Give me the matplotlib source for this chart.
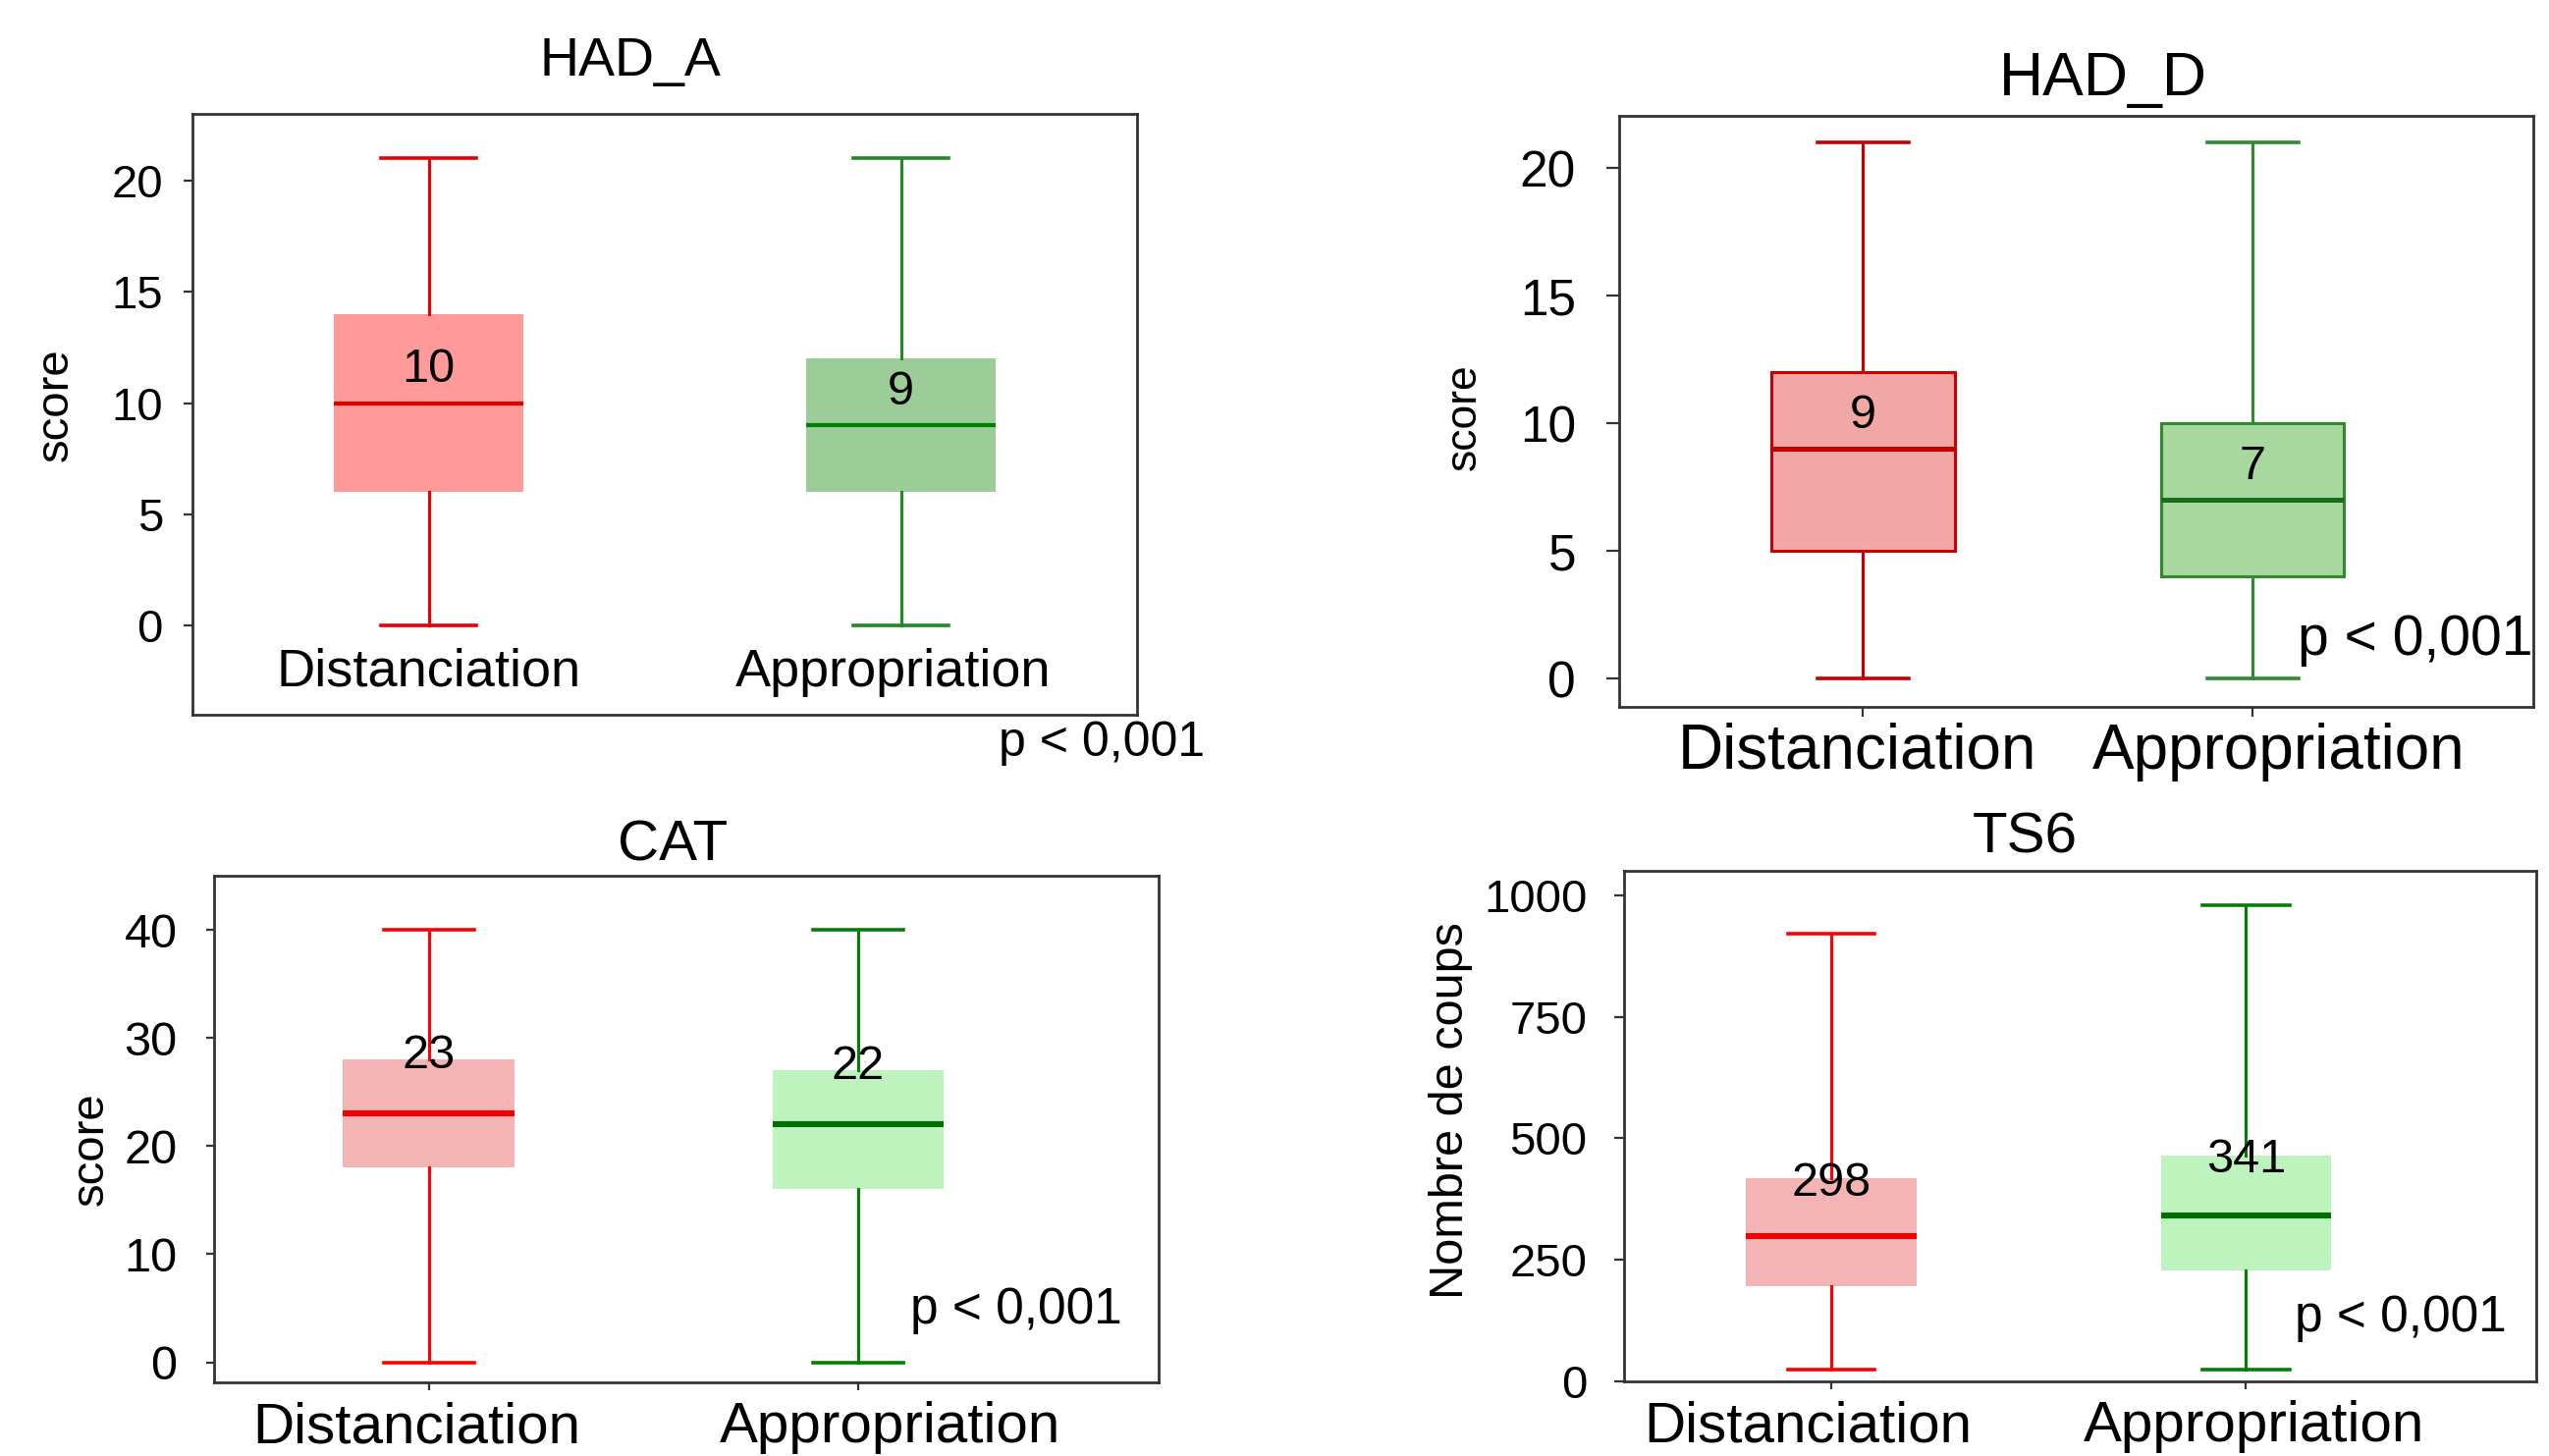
import matplotlib
matplotlib.use('Agg')
import matplotlib.pyplot as plt
from matplotlib.transforms import ScaledTranslation

plt.rcParams['font.family'] = ['Liberation Sans', 'DejaVu Sans']

groupes = ['Distanciation', 'Appropriation']

# HAD_A
hada_min = [0, 0]
hada_q1 = [6, 6]
hada_med = [10, 9]
hada_q3 = [14, 12]
hada_max = [21, 21]

# HAD_D
hadd_min = [0, 0]
hadd_q1 = [5, 4]
hadd_med = [9, 7]
hadd_q3 = [12, 10]
hadd_max = [21, 21]

# CAT
cat_min = [0, 0]
cat_q1 = [18, 16]
cat_med = [23, 22]
cat_q3 = [28, 27]
cat_max = [40, 40]

# TS6
ts6_min = [25, 25]
ts6_q1 = [195, 228]
ts6_med = [298, 341]
ts6_q3 = [417, 465]
ts6_max = [920, 980]

pval = 'p < 0,001'


def boite(ax, mins, q1, med, q3, maxs, larg, cap, fill, edge, ligne, medcol, med_lw, edge_lw):
    # boxplot a partir des stats
    stats = []
    for i in range(len(mins)):
        stats.append({'whislo': mins[i], 'q1': q1[i], 'med': med[i],
                      'q3': q3[i], 'whishi': maxs[i], 'fliers': []})
    b = ax.bxp(stats, positions=[1, 2], widths=larg, capwidths=cap,
               patch_artist=True, showfliers=False)
    for i in range(len(mins)):
        b['boxes'][i].set(facecolor=fill[i], edgecolor=edge[i], linewidth=edge_lw)
        b['medians'][i].set(color=medcol[i], linewidth=med_lw, solid_capstyle='butt')
        for w in b['whiskers'][2*i:2*i+2]:
            w.set(color=ligne[i], linewidth=1.1)
        for c in b['caps'][2*i:2*i+2]:
            c.set(color=ligne[i], linewidth=1.3)
    return b


def cadre(ax):
    for s in ax.spines.values():
        s.set_color('#333333')
        s.set_linewidth(1.0)


def decale(fig, ax, dx):
    # petit decalage horizontal des etiquettes (en pixels)
    for lab, d in zip(ax.get_xticklabels(), dx):
        lab.set_transform(lab.get_transform() + ScaledTranslation(d / 200, 0, fig.dpi_scale_trans))


fig = plt.figure(figsize=(12.98, 7.415), dpi=200)

# ---- HAD_A
ax1 = fig.add_axes([0.0755, 0.5091, 0.3706, 0.4127])
boite(ax1, hada_min, hada_q1, hada_med, hada_q3, hada_max, 0.40, 0.20,
      ['#ff9a9a', '#9ccc98'], ['#ff9a9a', '#9ccc98'], ['#e60000', '#1e8c1e'],
      ['#e00000', '#008000'], 1.5, 0)
ax1.set_xlim(0.5, 2.5)
ax1.set_ylim(-4, 23)
ax1.set_yticks([0, 5, 10, 15, 20])
ax1.set_xticks([1, 2])
ax1.set_xticklabels(groupes)
ax1.tick_params(axis='x', length=0, pad=-24.5, labelsize=19.5)
ax1.tick_params(axis='y', length=3.3, pad=7.5, labelsize=17, color='#333333')
ax1.set_title('HAD_A', fontsize=20, x=0.464, pad=13.9)
ax1.text(-0.1445, 0.516, 'score', transform=ax1.transAxes, rotation=90,
         ha='center', va='center', fontsize=17)
for i in range(2):
    ax1.text(i + 1, hada_med[i] + 1.5, str(hada_med[i]), ha='center', va='center', fontsize=17.5)
ax1.text(0.853, -0.047, pval, transform=ax1.transAxes, ha='left', va='center', fontsize=18)
cadre(ax1)
decale(fig, ax1, [0, -8])

# ---- HAD_D
ax2 = fig.add_axes([0.6352, 0.5145, 0.3586, 0.4059])
boite(ax2, hadd_min, hadd_q1, hadd_med, hadd_q3, hadd_max, 0.47, 0.235,
      ['#f2a7a7', '#a8d8a0'], ['#c80000', '#2e8b2e'], ['#c80000', '#2e8b2e'],
      ['#c00000', '#1a6e1a'], 1.8, 1.1)
ax2.set_xlim(0.374, 2.72)
ax2.set_ylim(-1.1, 22.05)
ax2.set_yticks([0, 5, 10, 15, 20])
ax2.set_xticks([1, 2])
ax2.set_xticklabels(groupes)
ax2.tick_params(axis='x', length=3.6, pad=2, labelsize=23, color='#333333')
ax2.tick_params(axis='y', length=4.8, pad=11, labelsize=18.5, color='#333333')
ax2.set_title('HAD_D', fontsize=22.5, x=0.53, pad=7.7)
ax2.text(-0.169, 0.49, 'score', transform=ax2.transAxes, rotation=90,
         ha='center', va='center', fontsize=16)
for i in range(2):
    ax2.text(i + 1, hadd_med[i] + 1.3, str(hadd_med[i]), ha='center', va='center', fontsize=17.5)
ax2.text(0.742, 0.113, pval, transform=ax2.transAxes, ha='left', va='center', fontsize=20.5)
cadre(ax2)
decale(fig, ax2, [-6, 26])

# ---- CAT
ax3 = fig.add_axes([0.0840, 0.0506, 0.3706, 0.3479])
boite(ax3, cat_min, cat_q1, cat_med, cat_q3, cat_max, 0.40, 0.21,
      ['#f4b4b4', '#bdf4bd'], ['#f4b4b4', '#bdf4bd'], ['#ff0000', '#008000'],
      ['#f00000', '#007000'], 2.2, 0)
ax3.set_xlim(0.50, 2.70)
ax3.set_ylim(-1.85, 45)
ax3.set_yticks([0, 10, 20, 30, 40])
ax3.set_xticks([1, 2])
ax3.set_xticklabels(groupes)
ax3.tick_params(axis='x', length=3, pad=4, labelsize=21, color='#333333')
ax3.tick_params(axis='y', length=3, pad=10.5, labelsize=17.5, color='#333333')
ax3.set_title('CAT', fontsize=21, x=0.485, pad=5.5)
ax3.text(-0.13, 0.46, 'score', transform=ax3.transAxes, rotation=90,
         ha='center', va='center', fontsize=17)
for i in range(2):
    ax3.text(i + 1, cat_q3[i] + 0.3, str(cat_med[i]), ha='center', va='center', fontsize=17.5)
ax3.text(0.737, 0.143, pval, transform=ax3.transAxes, ha='left', va='center', fontsize=18.5)
cadre(ax3)
decale(fig, ax3, [-12, 32])

# ---- TS6
ax4 = fig.add_axes([0.6371, 0.0513, 0.3579, 0.3506])
boite(ax4, ts6_min, ts6_q1, ts6_med, ts6_q3, ts6_max, 0.41, 0.21,
      ['#f4b4b4', '#bdf4bd'], ['#f4b4b4', '#bdf4bd'], ['#ff0000', '#008000'],
      ['#f00000', '#007000'], 2.2, 0)
ax4.set_xlim(0.50, 2.70)
ax4.set_ylim(0, 1050)
ax4.set_yticks([0, 250, 500, 750, 1000])
ax4.set_xticks([1, 2])
ax4.set_xticklabels(groupes)
ax4.tick_params(axis='x', length=3, pad=4, labelsize=21, color='#333333')
ax4.tick_params(axis='y', length=3.6, pad=9.8, labelsize=17, color='#333333')
ax4.set_title('TS6', fontsize=21, x=0.44, pad=6.8)
ax4.text(-0.19, 0.53, 'Nombre de coups', transform=ax4.transAxes, rotation=90,
         ha='center', va='center', fontsize=17.5)
for i in range(2):
    ax4.text(i + 1, ts6_q3[i] - 10, str(ts6_med[i]), ha='center', va='center', fontsize=17.5)
ax4.text(0.735, 0.123, pval, transform=ax4.transAxes, ha='left', va='center', fontsize=18.5)
cadre(ax4)
decale(fig, ax4, [-24, 8])

fig.savefig('out.png', dpi=200)
